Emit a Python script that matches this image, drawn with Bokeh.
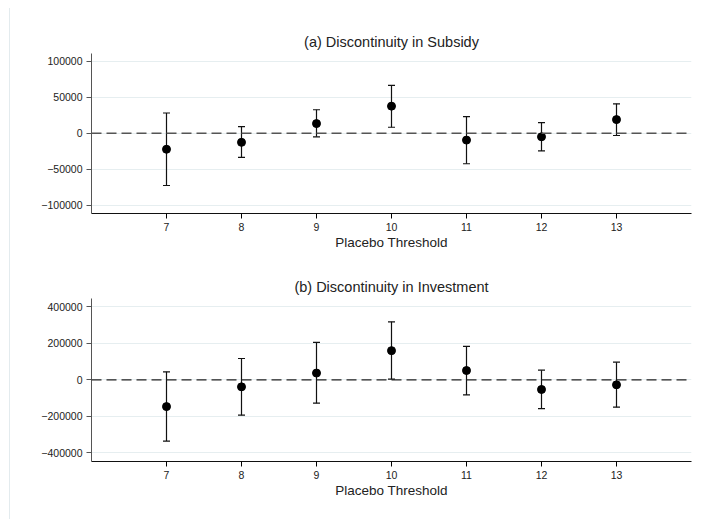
from bokeh.plotting import figure
from bokeh.layouts import column
from bokeh.models import ColumnDataSource, Whisker, TeeHead, Span, FixedTicker, BasicTickFormatter, Range1d
from bokeh.embed import file_html
from bokeh.resources import INLINE

thresholds = [7, 8, 9, 10, 11, 12, 13]

subsidy_est = [-22300, -12700, 13300, 37500, -9600, -5000, 18800]
subsidy_lo = [-72600, -33700, -5000, 8200, -42400, -24600, -3200]
subsidy_hi = [28000, 9200, 32500, 66300, 22900, 14600, 40700]

invest_est = [-147000, -38600, 37000, 160000, 51000, -53000, -27500]
invest_lo = [-336000, -194000, -128000, 4000, -83000, -158000, -150000]
invest_hi = [44000, 117000, 205000, 318000, 183000, 53000, 97000]

subsidy_ticks = [-100000, -50000, 0, 50000, 100000]
invest_ticks = [-400000, -200000, 0, 200000, 400000]

FONT = "Liberation Sans"


def panel(title, est, lo, hi, yticks, yrange, height, top, bottom, zcolor, zwidth):
    p = figure(width=686, height=height, output_backend="svg", toolbar_location=None,
               x_range=Range1d(6, 14), y_range=Range1d(*yrange),
               min_border_left=81, min_border_right=5, min_border_top=top, min_border_bottom=bottom)
    p.title.text = title
    p.title.align = "center"
    p.title.text_font = FONT
    p.title.text_font_size = "14.5px"
    p.title.text_font_style = "normal"
    p.title.text_color = "#222222"
    p.title.standoff = 8
    p.outline_line_color = None
    p.xgrid.grid_line_color = None
    p.ygrid.grid_line_color = "#e6eef0"
    p.ygrid.grid_line_width = 1

    p.xaxis.ticker = FixedTicker(ticks=thresholds)
    p.yaxis.ticker = FixedTicker(ticks=yticks)
    p.yaxis.formatter = BasicTickFormatter(use_scientific=False)
    for ax in (p.xaxis, p.yaxis):
        ax.minor_tick_line_color = None
        ax.major_tick_in = 0
        ax.major_tick_out = 5
        ax.major_label_text_font = FONT
        ax.major_label_text_font_size = "10.5px"
        ax.major_label_text_color = "#222222"
        ax.major_label_standoff = 4
    p.yaxis.axis_line_color = "#555555"
    p.yaxis.major_tick_line_color = "#555555"
    p.xaxis.axis_line_color = "#111111"
    p.xaxis.axis_label = "Placebo Threshold"
    p.xaxis.axis_label_text_font = FONT
    p.xaxis.axis_label_text_font_size = "13.5px"
    p.xaxis.axis_label_text_font_style = "normal"
    p.xaxis.axis_label_text_color = "#222222"
    p.xaxis.axis_label_standoff = 1

    p.add_layout(Span(location=0, dimension="width", line_color=zcolor,
                      line_width=zwidth, line_dash="10 5"))

    src = ColumnDataSource(dict(x=thresholds, y=est, lo=lo, hi=hi))
    w = Whisker(base="x", lower="lo", upper="hi", source=src, line_color="#111111", line_width=1.2,
                upper_head=TeeHead(size=7, line_color="#111111", line_width=1.2),
                lower_head=TeeHead(size=7, line_color="#111111", line_width=1.2))
    p.add_layout(w)
    p.scatter("x", "y", source=src, size=8, color="black")
    return p


p1 = panel("(a) Discontinuity in Subsidy", subsidy_est, subsidy_lo, subsidy_hi,
           subsidy_ticks, (-111400, 110500), 244, 45, 37, "#555555", 1.6)
p2 = panel("(b) Discontinuity in Investment", invest_est, invest_lo, invest_hi,
           invest_ticks, (-448000, 446000), 248, 46, 39, "#222222", 1.2)

layout = column(p1, p2, spacing=0,
                styles={"margin-left": "9px", "margin-top": "8px", "padding-bottom": "19px",
                        "border-left": "1px solid #e3ebee"})
open("out.html", "w").write(file_html(layout, INLINE))
